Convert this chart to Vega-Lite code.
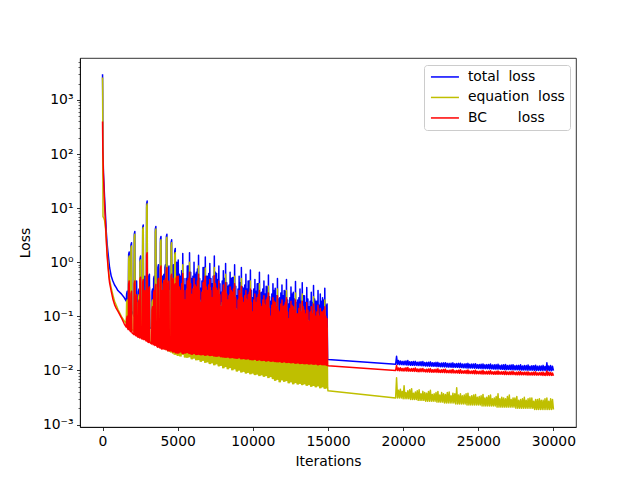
{
  "$schema": "https://vega.github.io/schema/vega-lite/v6.json",
  "width": 496,
  "height": 369,
  "autosize": {"type": "none"},
  "padding": {"left": 80, "top": 58, "right": 64, "bottom": 53},
  "background": "white",
  "datasets": {
    "total": [
      {"i":0,"v":3000},{"i":10,"v":1200},{"i":20,"v":150},{"i":60,"v":45},{"i":133,"v":16},{"i":200,"v":7},{"i":247,"v":3.7},{"i":300,"v":2.3},{"i":353,"v":1.6},{"i":467,"v":0.8},{"i":580,"v":0.55},{"i":687,"v":0.45},{"i":800,"v":0.38},{"i":913,"v":0.34},{"i":1020,"v":0.3},{"i":1250,"v":0.26},{"i":1450,"v":0.22},
      {"i":1575,"v":0.19},{"i":1602,"v":0.26},{"i":1638,"v":0.29},{"i":1665,"v":0.18},{"i":1710,"v":0.165},{"i":1737,"v":1.4},{"i":1773,"v":1.55},{"i":1800,"v":0.155},
      {"i":1865,"v":0.135},{"i":1892,"v":2.1},{"i":1928,"v":2.3},{"i":1955,"v":0.125},{"i":2085,"v":0.1},{"i":2112,"v":3.3},{"i":2148,"v":3.7},{"i":2175,"v":0.097},
      {"i":2205,"v":0.092},{"i":2232,"v":0.4},{"i":2268,"v":0.45},{"i":2295,"v":0.088},{"i":2365,"v":0.083},{"i":2392,"v":0.29},{"i":2428,"v":0.32},{"i":2455,"v":0.081},
      {"i":2465,"v":0.079},{"i":2492,"v":1.15},{"i":2528,"v":1.3},{"i":2555,"v":0.077},{"i":2645,"v":0.074},{"i":2672,"v":4.4},{"i":2708,"v":4.9},{"i":2735,"v":0.073},
      {"i":2755,"v":0.071},{"i":2782,"v":0.5},{"i":2818,"v":0.55},{"i":2845,"v":0.07},{"i":2905,"v":0.067},{"i":2932,"v":12},{"i":2968,"v":13.5},{"i":2995,"v":0.066},
      {"i":3055,"v":0.063},{"i":3082,"v":0.55},{"i":3118,"v":0.6},{"i":3145,"v":0.062},{"i":3265,"v":0.059},{"i":3292,"v":0.29},{"i":3328,"v":0.32},{"i":3355,"v":0.058},
      {"i":3375,"v":0.057},{"i":3402,"v":0.5},{"i":3438,"v":0.55},{"i":3465,"v":0.056},{"i":3485,"v":0.055},{"i":3512,"v":4.1},{"i":3548,"v":4.6},{"i":3575,"v":0.055},
      {"i":3655,"v":0.053},{"i":3682,"v":0.8},{"i":3718,"v":0.9},{"i":3745,"v":0.052},{"i":3825,"v":0.049},{"i":3852,"v":2.7},{"i":3888,"v":3.0},{"i":3915,"v":0.048},
      {"i":3925,"v":0.047},{"i":3952,"v":0.5},{"i":3988,"v":0.55},{"i":4015,"v":0.046},{"i":4025,"v":0.046},{"i":4052,"v":0.55},{"i":4088,"v":0.6},{"i":4115,"v":0.046},
      {"i":4125,"v":0.045},{"i":4152,"v":0.8},{"i":4188,"v":0.9},{"i":4215,"v":0.045},{"i":4220,"v":0.045},{"i":4247,"v":3.0},{"i":4283,"v":3.3},{"i":4310,"v":0.045},
      {"i":4355,"v":0.044},{"i":4382,"v":0.75},{"i":4418,"v":0.85},{"i":4445,"v":0.044},{"i":4535,"v":0.043},{"i":4562,"v":2.3},{"i":4598,"v":2.6},{"i":4625,"v":0.043},
      {"i":4655,"v":0.043},{"i":4682,"v":0.8},{"i":4718,"v":0.9},{"i":4745,"v":0.043},{"i":4775,"v":0.043},{"i":4802,"v":1.6},{"i":4838,"v":1.8},{"i":4865,"v":0.042},
      {"i":4875,"v":0.042},{"i":4902,"v":0.9},{"i":4938,"v":1.0},{"i":4965,"v":0.042},
      {"i":5000,"v":0.042},{"i":5037,"v":1.1},{"i":5075,"v":0.042},{"i":5112,"v":0.6},{"i":5150,"v":0.041},{"i":5187,"v":0.55},{"i":5225,"v":0.041},{"i":5262,"v":0.7},
      {"i":5300,"v":0.04},{"i":5337,"v":1.45},{"i":5375,"v":0.04},{"i":5412,"v":0.5},{"i":5450,"v":0.039},{"i":5487,"v":0.38},{"i":5525,"v":0.039},{"i":5562,"v":0.5},
      {"i":5600,"v":0.038},{"i":5637,"v":0.85},{"i":5675,"v":0.038},{"i":5712,"v":0.85},{"i":5750,"v":0.037},{"i":5787,"v":1.5},{"i":5825,"v":0.037},{"i":5862,"v":0.65},
      {"i":5900,"v":0.036},{"i":5937,"v":0.5},{"i":5975,"v":0.036},{"i":6012,"v":0.55},{"i":6050,"v":0.036},{"i":6087,"v":1.0},{"i":6125,"v":0.036},{"i":6162,"v":0.6},
      {"i":6200,"v":0.035},{"i":6237,"v":0.65},{"i":6275,"v":0.035},{"i":6312,"v":0.75},{"i":6350,"v":0.034},{"i":6387,"v":1.35},{"i":6425,"v":0.034},{"i":6462,"v":0.5},
      {"i":6500,"v":0.033},{"i":6537,"v":0.33},{"i":6575,"v":0.033},{"i":6612,"v":0.45},{"i":6650,"v":0.033},{"i":6687,"v":0.8},{"i":6725,"v":0.033},{"i":6762,"v":0.8},
      {"i":6800,"v":0.032},{"i":6837,"v":1.25},{"i":6875,"v":0.032},{"i":6912,"v":0.55},{"i":6950,"v":0.031},{"i":6987,"v":0.55},{"i":7025,"v":0.031},{"i":7062,"v":0.62},
      {"i":7100,"v":0.031},{"i":7137,"v":0.95},{"i":7175,"v":0.031},{"i":7212,"v":0.5},{"i":7250,"v":0.03},{"i":7287,"v":0.4},{"i":7325,"v":0.03},{"i":7362,"v":0.55},
      {"i":7400,"v":0.029},{"i":7437,"v":1.3},{"i":7475,"v":0.029},{"i":7512,"v":0.65},{"i":7550,"v":0.029},{"i":7587,"v":0.62},{"i":7625,"v":0.029},{"i":7662,"v":0.48},
      {"i":7700,"v":0.028},{"i":7737,"v":0.85},{"i":7775,"v":0.028},{"i":7812,"v":0.4},{"i":7850,"v":0.028},{"i":7887,"v":0.28},{"i":7925,"v":0.028},{"i":7962,"v":0.45},
      {"i":8000,"v":0.027},{"i":8037,"v":0.7},{"i":8075,"v":0.027},{"i":8112,"v":0.5},{"i":8150,"v":0.027},{"i":8187,"v":0.95},{"i":8225,"v":0.027},{"i":8262,"v":0.42},
      {"i":8300,"v":0.026},{"i":8337,"v":0.36},{"i":8375,"v":0.026},{"i":8412,"v":0.38},{"i":8450,"v":0.026},{"i":8487,"v":0.65},{"i":8525,"v":0.026},{"i":8562,"v":0.5},
      {"i":8600,"v":0.025},{"i":8637,"v":0.52},{"i":8675,"v":0.025},{"i":8712,"v":0.52},{"i":8750,"v":0.025},{"i":8787,"v":0.9},{"i":8825,"v":0.025},{"i":8862,"v":0.36},
      {"i":8900,"v":0.024},{"i":8937,"v":0.24},{"i":8975,"v":0.024},{"i":9012,"v":0.32},{"i":9050,"v":0.024},{"i":9087,"v":0.55},{"i":9125,"v":0.024},{"i":9162,"v":0.42},
      {"i":9200,"v":0.023},{"i":9237,"v":0.8},{"i":9275,"v":0.023},{"i":9312,"v":0.35},{"i":9350,"v":0.023},{"i":9387,"v":0.33},{"i":9425,"v":0.023},{"i":9462,"v":0.38},
      {"i":9500,"v":0.023},{"i":9537,"v":0.6},{"i":9575,"v":0.023},{"i":9612,"v":0.32},{"i":9650,"v":0.022},{"i":9687,"v":0.45},{"i":9725,"v":0.022},{"i":9762,"v":0.45},
      {"i":9800,"v":0.022},{"i":9837,"v":0.72},{"i":9875,"v":0.022},{"i":9912,"v":0.3},{"i":9950,"v":0.022},{"i":9987,"v":0.22},{"i":10025,"v":0.022},{"i":10062,"v":0.32},
      {"i":10100,"v":0.021},{"i":10137,"v":0.48},{"i":10175,"v":0.021},{"i":10212,"v":0.29},{"i":10250,"v":0.021},{"i":10287,"v":0.4},{"i":10325,"v":0.021},{"i":10362,"v":0.4},
      {"i":10400,"v":0.021},{"i":10437,"v":0.65},{"i":10475,"v":0.021},{"i":10512,"v":0.27},{"i":10550,"v":0.02},{"i":10587,"v":0.28},{"i":10625,"v":0.02},{"i":10662,"v":0.32},
      {"i":10700,"v":0.02},{"i":10737,"v":0.45},{"i":10775,"v":0.02},{"i":10812,"v":0.26},{"i":10850,"v":0.02},{"i":10887,"v":0.36},{"i":10925,"v":0.02},{"i":10962,"v":0.35},
      {"i":11000,"v":0.02},{"i":11037,"v":0.58},{"i":11075,"v":0.02},{"i":11112,"v":0.23},{"i":11150,"v":0.019},{"i":11187,"v":0.19},{"i":11225,"v":0.019},{"i":11262,"v":0.26},
      {"i":11300,"v":0.019},{"i":11337,"v":0.4},{"i":11375,"v":0.019},{"i":11412,"v":0.3},{"i":11450,"v":0.019},{"i":11487,"v":0.33},{"i":11525,"v":0.019},{"i":11562,"v":0.24},
      {"i":11600,"v":0.019},{"i":11637,"v":0.5},{"i":11675,"v":0.019},{"i":11712,"v":0.21},{"i":11750,"v":0.018},{"i":11787,"v":0.22},{"i":11825,"v":0.018},{"i":11862,"v":0.27},
      {"i":11900,"v":0.018},{"i":11937,"v":0.38},{"i":11975,"v":0.018},{"i":12012,"v":0.24},{"i":12050,"v":0.018},{"i":12087,"v":0.3},{"i":12125,"v":0.018},{"i":12162,"v":0.29},
      {"i":12200,"v":0.018},{"i":12237,"v":0.48},{"i":12275,"v":0.018},{"i":12312,"v":0.2},{"i":12350,"v":0.018},{"i":12387,"v":0.17},{"i":12425,"v":0.018},{"i":12462,"v":0.22},
      {"i":12500,"v":0.017},{"i":12537,"v":0.35},{"i":12575,"v":0.017},{"i":12612,"v":0.26},{"i":12650,"v":0.017},{"i":12687,"v":0.28},{"i":12725,"v":0.017},{"i":12762,"v":0.21},
      {"i":12800,"v":0.017},{"i":12837,"v":0.44},{"i":12875,"v":0.017},{"i":12912,"v":0.18},{"i":12950,"v":0.017},{"i":12987,"v":0.2},{"i":13025,"v":0.017},{"i":13062,"v":0.22},
      {"i":13100,"v":0.017},{"i":13137,"v":0.32},{"i":13175,"v":0.017},{"i":13212,"v":0.19},{"i":13250,"v":0.017},{"i":13287,"v":0.42},{"i":13325,"v":0.017},{"i":13362,"v":0.24},
      {"i":13400,"v":0.0168},{"i":13437,"v":0.24},{"i":13475,"v":0.0168},{"i":13512,"v":0.18},{"i":13550,"v":0.0167},{"i":13587,"v":0.34},{"i":13625,"v":0.0167},{"i":13662,"v":0.21},
      {"i":13700,"v":0.0166},{"i":13737,"v":0.15},{"i":13775,"v":0.0166},{"i":13812,"v":0.19},{"i":13850,"v":0.0165},{"i":13887,"v":0.28},{"i":13925,"v":0.0165},{"i":13962,"v":0.18},
      {"i":14000,"v":0.0165},{"i":14037,"v":0.37},{"i":14075,"v":0.0165},{"i":14112,"v":0.21},{"i":14150,"v":0.0164},{"i":14187,"v":0.19},{"i":14225,"v":0.0164},{"i":14262,"v":0.19},
      {"i":14300,"v":0.0163},{"i":14337,"v":0.3},{"i":14375,"v":0.0163},{"i":14412,"v":0.16},{"i":14450,"v":0.0163},{"i":14487,"v":0.26},{"i":14525,"v":0.0163},{"i":14562,"v":0.19},
      {"i":14600,"v":0.0162},{"i":14637,"v":0.22},{"i":14675,"v":0.0162},{"i":14712,"v":0.2},{"i":14750,"v":0.0162},{"i":14787,"v":0.33},{"i":14825,"v":0.0162},{"i":14862,"v":0.16},
      {"i":14900,"v":0.0161},{"i":14937,"v":0.17},{"i":14975,"v":0.0161},{"i":15000,"v":0.016},
      {"i":19500,"v":0.013},{"i":19562,"v":0.0183},{"i":19625,"v":0.013},{"i":19687,"v":0.0152},{"i":19750,"v":0.0128},{"i":19812,"v":0.015},{"i":19875,"v":0.0128},{"i":19937,"v":0.0147},
      {"i":20000,"v":0.0127},{"i":20062,"v":0.0148},{"i":20125,"v":0.0127},{"i":20187,"v":0.015},{"i":20250,"v":0.0126},{"i":20312,"v":0.0152},{"i":20375,"v":0.0126},{"i":20437,"v":0.0145},
      {"i":20500,"v":0.0125},{"i":20562,"v":0.0145},{"i":20625,"v":0.0125},{"i":20687,"v":0.0146},{"i":20750,"v":0.0124},{"i":20812,"v":0.0147},{"i":20875,"v":0.0124},{"i":20937,"v":0.0142},
      {"i":21000,"v":0.0123},{"i":21062,"v":0.0143},{"i":21125,"v":0.0123},{"i":21187,"v":0.0145},{"i":21250,"v":0.0122},{"i":21312,"v":0.0146},{"i":21375,"v":0.0122},{"i":21437,"v":0.014},
      {"i":21500,"v":0.0121},{"i":21562,"v":0.0141},{"i":21625,"v":0.0121},{"i":21687,"v":0.0142},{"i":21750,"v":0.012},{"i":21812,"v":0.0144},{"i":21875,"v":0.012},{"i":21937,"v":0.0139},
      {"i":22000,"v":0.0119},{"i":22062,"v":0.0139},{"i":22125,"v":0.0119},{"i":22187,"v":0.0141},{"i":22250,"v":0.0118},{"i":22312,"v":0.0141},{"i":22375,"v":0.0118},{"i":22437,"v":0.0136},
      {"i":22500,"v":0.0117},{"i":22562,"v":0.0137},{"i":22625,"v":0.0117},{"i":22687,"v":0.0138},{"i":22750,"v":0.0116},{"i":22812,"v":0.0139},{"i":22875,"v":0.0116},{"i":22937,"v":0.0135},
      {"i":23000,"v":0.0115},{"i":23062,"v":0.0135},{"i":23125,"v":0.0115},{"i":23187,"v":0.0136},{"i":23250,"v":0.0114},{"i":23312,"v":0.0138},{"i":23375,"v":0.0114},{"i":23437,"v":0.0133},
      {"i":23500,"v":0.0114},{"i":23562,"v":0.0134},{"i":23625,"v":0.0114},{"i":23687,"v":0.0135},{"i":23750,"v":0.0113},{"i":23812,"v":0.0136},{"i":23875,"v":0.0113},{"i":23937,"v":0.0131},
      {"i":24000,"v":0.0112},{"i":24062,"v":0.0132},{"i":24125,"v":0.0112},{"i":24187,"v":0.0133},{"i":24250,"v":0.0111},{"i":24312,"v":0.0135},{"i":24375,"v":0.0111},{"i":24437,"v":0.013},
      {"i":24500,"v":0.0111},{"i":24562,"v":0.0131},{"i":24625,"v":0.0111},{"i":24687,"v":0.0132},{"i":24750,"v":0.011},{"i":24812,"v":0.0133},{"i":24875,"v":0.011},{"i":24937,"v":0.0128},
      {"i":25000,"v":0.0109},{"i":25062,"v":0.0129},{"i":25125,"v":0.0109},{"i":25187,"v":0.013},{"i":25250,"v":0.0108},{"i":25312,"v":0.0132},{"i":25375,"v":0.0108},{"i":25437,"v":0.0127},
      {"i":25500,"v":0.0108},{"i":25562,"v":0.0128},{"i":25625,"v":0.0108},{"i":25687,"v":0.0129},{"i":25750,"v":0.0107},{"i":25812,"v":0.0131},{"i":25875,"v":0.0107},{"i":25937,"v":0.0126},
      {"i":26000,"v":0.0106},{"i":26062,"v":0.0127},{"i":26125,"v":0.0106},{"i":26187,"v":0.0128},{"i":26250,"v":0.0106},{"i":26312,"v":0.013},{"i":26375,"v":0.0106},{"i":26437,"v":0.0124},
      {"i":26500,"v":0.0105},{"i":26562,"v":0.0126},{"i":26625,"v":0.0105},{"i":26687,"v":0.0127},{"i":26750,"v":0.0104},{"i":26812,"v":0.0129},{"i":26875,"v":0.0104},{"i":26937,"v":0.0123},
      {"i":27000,"v":0.0104},{"i":27062,"v":0.0125},{"i":27125,"v":0.0104},{"i":27187,"v":0.0126},{"i":27250,"v":0.0103},{"i":27312,"v":0.0128},{"i":27375,"v":0.0103},{"i":27437,"v":0.0122},
      {"i":27500,"v":0.0103},{"i":27562,"v":0.0124},{"i":27625,"v":0.0103},{"i":27687,"v":0.0124},{"i":27750,"v":0.0102},{"i":27812,"v":0.0127},{"i":27875,"v":0.0102},{"i":27937,"v":0.0121},
      {"i":28000,"v":0.0102},{"i":28062,"v":0.0123},{"i":28125,"v":0.0102},{"i":28187,"v":0.0123},{"i":28250,"v":0.0101},{"i":28312,"v":0.0126},{"i":28375,"v":0.0101},{"i":28437,"v":0.012},
      {"i":28500,"v":0.0101},{"i":28562,"v":0.0122},{"i":28625,"v":0.0101},{"i":28687,"v":0.0122},{"i":28750,"v":0.01},{"i":28812,"v":0.0125},{"i":28875,"v":0.01},{"i":28937,"v":0.0119},
      {"i":29000,"v":0.01},{"i":29062,"v":0.0121},{"i":29125,"v":0.01},{"i":29187,"v":0.0121},{"i":29250,"v":0.01},{"i":29312,"v":0.0124},{"i":29375,"v":0.01},{"i":29437,"v":0.0118},
      {"i":29500,"v":0.0099},{"i":29562,"v":0.0138},{"i":29625,"v":0.0099},{"i":29687,"v":0.0121},{"i":29750,"v":0.0099},{"i":29812,"v":0.0123},{"i":29875,"v":0.0099},{"i":29937,"v":0.0119},
      {"i":30000,"v":0.0099}
    ],
    "equation": [
      {"i":0,"v":2600},{"i":10,"v":1500},{"i":20,"v":60},{"i":30,"v":7},{"i":90,"v":6.5},{"i":133,"v":6},{"i":200,"v":4.2},{"i":247,"v":2.8},{"i":300,"v":1.6},{"i":353,"v":1.0},{"i":420,"v":0.62},{"i":467,"v":0.48},{"i":580,"v":0.33},{"i":687,"v":0.25},{"i":800,"v":0.19},{"i":913,"v":0.16},{"i":1020,"v":0.135},{"i":1250,"v":0.1},{"i":1450,"v":0.082},
      {"i":1575,"v":0.074},{"i":1602,"v":0.18},{"i":1638,"v":0.2},{"i":1665,"v":0.072},{"i":1710,"v":0.068},{"i":1737,"v":1.15},{"i":1773,"v":1.3},{"i":1800,"v":0.066},
      {"i":1865,"v":0.06},{"i":1892,"v":1.8},{"i":1928,"v":2.0},{"i":1955,"v":0.058},{"i":2085,"v":0.053},{"i":2112,"v":2.9},{"i":2148,"v":3.3},{"i":2175,"v":0.052},
      {"i":2205,"v":0.05},{"i":2232,"v":0.16},{"i":2268,"v":0.18},{"i":2295,"v":0.049},{"i":2365,"v":0.047},{"i":2392,"v":0.22},{"i":2428,"v":0.25},{"i":2455,"v":0.046},
      {"i":2465,"v":0.045},{"i":2492,"v":1.0},{"i":2528,"v":1.1},{"i":2555,"v":0.045},{"i":2645,"v":0.042},{"i":2672,"v":4.0},{"i":2708,"v":4.4},{"i":2735,"v":0.042},
      {"i":2755,"v":0.041},{"i":2782,"v":0.2},{"i":2818,"v":0.22},{"i":2845,"v":0.04},{"i":2905,"v":0.038},{"i":2932,"v":10.5},{"i":2968,"v":12},{"i":2995,"v":0.037},
      {"i":3055,"v":0.036},{"i":3082,"v":0.22},{"i":3118,"v":0.25},{"i":3145,"v":0.035},{"i":3265,"v":0.033},{"i":3292,"v":0.18},{"i":3328,"v":0.2},{"i":3355,"v":0.033},
      {"i":3375,"v":0.032},{"i":3402,"v":0.18},{"i":3438,"v":0.2},{"i":3465,"v":0.032},{"i":3485,"v":0.031},{"i":3512,"v":3.6},{"i":3548,"v":4.1},{"i":3575,"v":0.031},
      {"i":3655,"v":0.029},{"i":3682,"v":0.3},{"i":3718,"v":0.35},{"i":3745,"v":0.029},{"i":3825,"v":0.028},{"i":3852,"v":2.3},{"i":3888,"v":2.6},{"i":3915,"v":0.027},
      {"i":3925,"v":0.027},{"i":3952,"v":0.18},{"i":3988,"v":0.2},{"i":4015,"v":0.026},{"i":4025,"v":0.026},{"i":4052,"v":0.4},{"i":4088,"v":0.45},{"i":4115,"v":0.026},
      {"i":4125,"v":0.025},{"i":4152,"v":0.3},{"i":4188,"v":0.35},{"i":4215,"v":0.025},{"i":4220,"v":0.025},{"i":4247,"v":2.6},{"i":4283,"v":2.9},{"i":4310,"v":0.024},
      {"i":4355,"v":0.023},{"i":4382,"v":0.27},{"i":4418,"v":0.3},{"i":4445,"v":0.023},{"i":4535,"v":0.022},{"i":4562,"v":2.0},{"i":4598,"v":2.3},{"i":4625,"v":0.022},
      {"i":4655,"v":0.021},{"i":4682,"v":0.3},{"i":4718,"v":0.35},{"i":4745,"v":0.021},{"i":4775,"v":0.02},{"i":4802,"v":1.35},{"i":4838,"v":1.5},{"i":4865,"v":0.02},
      {"i":4875,"v":0.02},{"i":4902,"v":0.36},{"i":4938,"v":0.4},{"i":4965,"v":0.019},
      {"i":5000,"v":0.019},{"i":5037,"v":0.4},{"i":5075,"v":0.019},{"i":5112,"v":0.23},{"i":5150,"v":0.0185},{"i":5187,"v":0.22},{"i":5225,"v":0.0185},{"i":5262,"v":0.26},
      {"i":5300,"v":0.02},{"i":5337,"v":0.9},{"i":5375,"v":0.02},{"i":5412,"v":0.2},{"i":5450,"v":0.0178},{"i":5487,"v":0.14},{"i":5525,"v":0.0178},{"i":5562,"v":0.2},
      {"i":5600,"v":0.0175},{"i":5637,"v":0.32},{"i":5675,"v":0.0175},{"i":5712,"v":0.33},{"i":5750,"v":0.018},{"i":5787,"v":1.0},{"i":5825,"v":0.018},{"i":5862,"v":0.26},
      {"i":5900,"v":0.0165},{"i":5937,"v":0.18},{"i":5975,"v":0.0165},{"i":6012,"v":0.21},{"i":6050,"v":0.017},{"i":6087,"v":0.35},{"i":6125,"v":0.017},{"i":6162,"v":0.25},
      {"i":6200,"v":0.0158},{"i":6237,"v":0.25},{"i":6275,"v":0.0158},{"i":6312,"v":0.29},{"i":6350,"v":0.016},{"i":6387,"v":0.85},{"i":6425,"v":0.016},{"i":6462,"v":0.2},
      {"i":6500,"v":0.0148},{"i":6537,"v":0.13},{"i":6575,"v":0.0148},{"i":6612,"v":0.18},{"i":6650,"v":0.0155},{"i":6687,"v":0.3},{"i":6725,"v":0.0155},{"i":6762,"v":0.3},
      {"i":6800,"v":0.0142},{"i":6837,"v":0.78},{"i":6875,"v":0.0142},{"i":6912,"v":0.23},{"i":6950,"v":0.0145},{"i":6987,"v":0.2},{"i":7025,"v":0.0145},{"i":7062,"v":0.25},
      {"i":7100,"v":0.0135},{"i":7137,"v":0.34},{"i":7175,"v":0.0135},{"i":7212,"v":0.2},{"i":7250,"v":0.0138},{"i":7287,"v":0.15},{"i":7325,"v":0.0138},{"i":7362,"v":0.22},
      {"i":7400,"v":0.0128},{"i":7437,"v":0.8},{"i":7475,"v":0.0128},{"i":7512,"v":0.26},{"i":7550,"v":0.0133},{"i":7587,"v":0.23},{"i":7625,"v":0.0133},{"i":7662,"v":0.2},
      {"i":7700,"v":0.0122},{"i":7737,"v":0.32},{"i":7775,"v":0.0122},{"i":7812,"v":0.16},{"i":7850,"v":0.0125},{"i":7887,"v":0.1},{"i":7925,"v":0.0125},{"i":7962,"v":0.18},
      {"i":8000,"v":0.0112},{"i":8037,"v":0.27},{"i":8075,"v":0.0112},{"i":8112,"v":0.2},{"i":8150,"v":0.0118},{"i":8187,"v":0.6},{"i":8225,"v":0.0118},{"i":8262,"v":0.17},
      {"i":8300,"v":0.0108},{"i":8337,"v":0.14},{"i":8375,"v":0.0108},{"i":8412,"v":0.16},{"i":8450,"v":0.0113},{"i":8487,"v":0.25},{"i":8525,"v":0.0113},{"i":8562,"v":0.2},
      {"i":8600,"v":0.0103},{"i":8637,"v":0.2},{"i":8675,"v":0.0103},{"i":8712,"v":0.21},{"i":8750,"v":0.0107},{"i":8787,"v":0.55},{"i":8825,"v":0.0107},{"i":8862,"v":0.14},
      {"i":8900,"v":0.0098},{"i":8937,"v":0.09},{"i":8975,"v":0.0098},{"i":9012,"v":0.13},{"i":9050,"v":0.0102},{"i":9087,"v":0.21},{"i":9125,"v":0.0102},{"i":9162,"v":0.17},
      {"i":9200,"v":0.0094},{"i":9237,"v":0.5},{"i":9275,"v":0.0094},{"i":9312,"v":0.14},{"i":9350,"v":0.0097},{"i":9387,"v":0.12},{"i":9425,"v":0.0097},{"i":9462,"v":0.16},
      {"i":9500,"v":0.009},{"i":9537,"v":0.21},{"i":9575,"v":0.009},{"i":9612,"v":0.13},{"i":9650,"v":0.0093},{"i":9687,"v":0.17},{"i":9725,"v":0.0093},{"i":9762,"v":0.18},
      {"i":9800,"v":0.0087},{"i":9837,"v":0.45},{"i":9875,"v":0.0087},{"i":9912,"v":0.12},{"i":9950,"v":0.009},{"i":9987,"v":0.08},{"i":10025,"v":0.009},{"i":10062,"v":0.13},
      {"i":10100,"v":0.0084},{"i":10137,"v":0.18},{"i":10175,"v":0.0084},{"i":10212,"v":0.12},{"i":10250,"v":0.0086},{"i":10287,"v":0.15},{"i":10325,"v":0.0086},{"i":10362,"v":0.16},
      {"i":10400,"v":0.0081},{"i":10437,"v":0.4},{"i":10475,"v":0.0081},{"i":10512,"v":0.11},{"i":10550,"v":0.0083},{"i":10587,"v":0.1},{"i":10625,"v":0.0083},{"i":10662,"v":0.13},
      {"i":10700,"v":0.0078},{"i":10737,"v":0.17},{"i":10775,"v":0.0078},{"i":10812,"v":0.1},{"i":10850,"v":0.0081},{"i":10887,"v":0.14},{"i":10925,"v":0.0081},{"i":10962,"v":0.14},
      {"i":11000,"v":0.0074},{"i":11037,"v":0.36},{"i":11075,"v":0.0074},{"i":11112,"v":0.09},{"i":11150,"v":0.0077},{"i":11187,"v":0.07},{"i":11225,"v":0.0077},{"i":11262,"v":0.1},
      {"i":11300,"v":0.0071},{"i":11337,"v":0.15},{"i":11375,"v":0.0071},{"i":11412,"v":0.12},{"i":11450,"v":0.0066},{"i":11487,"v":0.12},{"i":11525,"v":0.0066},{"i":11562,"v":0.1},
      {"i":11600,"v":0.0069},{"i":11637,"v":0.32},{"i":11675,"v":0.0069},{"i":11712,"v":0.085},{"i":11750,"v":0.0062},{"i":11787,"v":0.08},{"i":11825,"v":0.0062},{"i":11862,"v":0.11},
      {"i":11900,"v":0.0067},{"i":11937,"v":0.14},{"i":11975,"v":0.0067},{"i":12012,"v":0.1},{"i":12050,"v":0.0063},{"i":12087,"v":0.11},{"i":12125,"v":0.0063},{"i":12162,"v":0.12},
      {"i":12200,"v":0.0065},{"i":12237,"v":0.3},{"i":12275,"v":0.0065},{"i":12312,"v":0.08},{"i":12350,"v":0.0059},{"i":12387,"v":0.06},{"i":12425,"v":0.0059},{"i":12462,"v":0.09},
      {"i":12500,"v":0.0062},{"i":12537,"v":0.13},{"i":12575,"v":0.0062},{"i":12612,"v":0.1},{"i":12650,"v":0.0057},{"i":12687,"v":0.1},{"i":12725,"v":0.0057},{"i":12762,"v":0.085},
      {"i":12800,"v":0.006},{"i":12837,"v":0.27},{"i":12875,"v":0.006},{"i":12912,"v":0.07},{"i":12950,"v":0.0056},{"i":12987,"v":0.075},{"i":13025,"v":0.0056},{"i":13062,"v":0.09},
      {"i":13100,"v":0.0058},{"i":13137,"v":0.12},{"i":13175,"v":0.0058},{"i":13212,"v":0.08},{"i":13250,"v":0.0055},{"i":13287,"v":0.26},{"i":13325,"v":0.0055},{"i":13362,"v":0.1},
      {"i":13400,"v":0.0057},{"i":13437,"v":0.09},{"i":13475,"v":0.0057},{"i":13512,"v":0.07},{"i":13550,"v":0.0053},{"i":13587,"v":0.12},{"i":13625,"v":0.0053},{"i":13662,"v":0.085},
      {"i":13700,"v":0.0055},{"i":13737,"v":0.055},{"i":13775,"v":0.0055},{"i":13812,"v":0.08},{"i":13850,"v":0.0051},{"i":13887,"v":0.1},{"i":13925,"v":0.0051},{"i":13962,"v":0.07},
      {"i":14000,"v":0.0053},{"i":14037,"v":0.23},{"i":14075,"v":0.0053},{"i":14112,"v":0.085},{"i":14150,"v":0.005},{"i":14187,"v":0.07},{"i":14225,"v":0.005},{"i":14262,"v":0.08},
      {"i":14300,"v":0.0052},{"i":14337,"v":0.11},{"i":14375,"v":0.0052},{"i":14412,"v":0.065},{"i":14450,"v":0.0048},{"i":14487,"v":0.1},{"i":14525,"v":0.0048},{"i":14562,"v":0.08},
      {"i":14600,"v":0.005},{"i":14637,"v":0.08},{"i":14675,"v":0.005},{"i":14712,"v":0.085},{"i":14750,"v":0.0047},{"i":14787,"v":0.2},{"i":14825,"v":0.0047},{"i":14862,"v":0.065},
      {"i":14900,"v":0.0048},{"i":14937,"v":0.06},{"i":14975,"v":0.0048},{"i":15000,"v":0.0042},
      {"i":19500,"v":0.0031},{"i":19562,"v":0.0073},{"i":19625,"v":0.0031},{"i":19687,"v":0.0043},{"i":19750,"v":0.0031},{"i":19812,"v":0.0045},{"i":19875,"v":0.0031},{"i":19937,"v":0.0041},
      {"i":20000,"v":0.003},{"i":20062,"v":0.0052},{"i":20125,"v":0.003},{"i":20187,"v":0.0039},{"i":20250,"v":0.003},{"i":20312,"v":0.0042},{"i":20375,"v":0.003},{"i":20437,"v":0.0044},
      {"i":20500,"v":0.0029},{"i":20562,"v":0.0046},{"i":20625,"v":0.0029},{"i":20687,"v":0.0038},{"i":20750,"v":0.0029},{"i":20812,"v":0.004},{"i":20875,"v":0.0029},{"i":20937,"v":0.0042},
      {"i":21000,"v":0.0028},{"i":21062,"v":0.0044},{"i":21125,"v":0.0028},{"i":21187,"v":0.0037},{"i":21250,"v":0.0028},{"i":21312,"v":0.0041},{"i":21375,"v":0.0028},{"i":21437,"v":0.0039},
      {"i":21500,"v":0.0027},{"i":21562,"v":0.0038},{"i":21625,"v":0.0027},{"i":21687,"v":0.0041},{"i":21750,"v":0.0027},{"i":21812,"v":0.0043},{"i":21875,"v":0.0027},{"i":21937,"v":0.0036},
      {"i":22000,"v":0.0027},{"i":22062,"v":0.0037},{"i":22125,"v":0.0027},{"i":22187,"v":0.0039},{"i":22250,"v":0.0026},{"i":22312,"v":0.0041},{"i":22375,"v":0.0026},{"i":22437,"v":0.0035},
      {"i":22500,"v":0.0026},{"i":22562,"v":0.0039},{"i":22625,"v":0.0026},{"i":22687,"v":0.0037},{"i":22750,"v":0.0025},{"i":22812,"v":0.0036},{"i":22875,"v":0.0025},{"i":22937,"v":0.0039},
      {"i":23000,"v":0.0025},{"i":23062,"v":0.004},{"i":23125,"v":0.0025},{"i":23187,"v":0.0034},{"i":23250,"v":0.0025},{"i":23312,"v":0.0038},{"i":23375,"v":0.0025},{"i":23437,"v":0.0037},
      {"i":23500,"v":0.0024},{"i":23562,"v":0.0048},{"i":23625,"v":0.0024},{"i":23687,"v":0.0035},{"i":23750,"v":0.0024},{"i":23812,"v":0.0037},{"i":23875,"v":0.0024},{"i":23937,"v":0.0034},
      {"i":24000,"v":0.0024},{"i":24062,"v":0.0035},{"i":24125,"v":0.0024},{"i":24187,"v":0.0037},{"i":24250,"v":0.0023},{"i":24312,"v":0.0038},{"i":24375,"v":0.0023},{"i":24437,"v":0.0033},
      {"i":24500,"v":0.0023},{"i":24562,"v":0.0034},{"i":24625,"v":0.0023},{"i":24687,"v":0.0035},{"i":24750,"v":0.0023},{"i":24812,"v":0.0036},{"i":24875,"v":0.0023},{"i":24937,"v":0.0032},
      {"i":25000,"v":0.0023},{"i":25062,"v":0.0033},{"i":25125,"v":0.0023},{"i":25187,"v":0.0034},{"i":25250,"v":0.0022},{"i":25312,"v":0.0036},{"i":25375,"v":0.0022},{"i":25437,"v":0.0031},
      {"i":25500,"v":0.0022},{"i":25562,"v":0.0032},{"i":25625,"v":0.0022},{"i":25687,"v":0.0034},{"i":25750,"v":0.0022},{"i":25812,"v":0.0035},{"i":25875,"v":0.0022},{"i":25937,"v":0.003},
      {"i":26000,"v":0.0022},{"i":26062,"v":0.0031},{"i":26125,"v":0.0022},{"i":26187,"v":0.0033},{"i":26250,"v":0.0021},{"i":26312,"v":0.0037},{"i":26375,"v":0.0021},{"i":26437,"v":0.003},
      {"i":26500,"v":0.0021},{"i":26562,"v":0.0032},{"i":26625,"v":0.0021},{"i":26687,"v":0.0031},{"i":26750,"v":0.0021},{"i":26812,"v":0.003},{"i":26875,"v":0.0021},{"i":26937,"v":0.0033},
      {"i":27000,"v":0.0021},{"i":27062,"v":0.0035},{"i":27125,"v":0.0021},{"i":27187,"v":0.0029},{"i":27250,"v":0.0021},{"i":27312,"v":0.0031},{"i":27375,"v":0.0021},{"i":27437,"v":0.0031},
      {"i":27500,"v":0.002},{"i":27562,"v":0.0033},{"i":27625,"v":0.002},{"i":27687,"v":0.0028},{"i":27750,"v":0.002},{"i":27812,"v":0.0029},{"i":27875,"v":0.002},{"i":27937,"v":0.003},
      {"i":28000,"v":0.002},{"i":28062,"v":0.0032},{"i":28125,"v":0.002},{"i":28187,"v":0.0028},{"i":28250,"v":0.002},{"i":28312,"v":0.003},{"i":28375,"v":0.002},{"i":28437,"v":0.0031},
      {"i":28500,"v":0.002},{"i":28562,"v":0.0031},{"i":28625,"v":0.002},{"i":28687,"v":0.0027},{"i":28750,"v":0.0019},{"i":28812,"v":0.0029},{"i":28875,"v":0.0019},{"i":28937,"v":0.0029},
      {"i":29000,"v":0.0019},{"i":29062,"v":0.003},{"i":29125,"v":0.0019},{"i":29187,"v":0.0028},{"i":29250,"v":0.0019},{"i":29312,"v":0.0028},{"i":29375,"v":0.0019},{"i":29437,"v":0.003},
      {"i":29500,"v":0.0019},{"i":29562,"v":0.0031},{"i":29625,"v":0.0019},{"i":29687,"v":0.0027},{"i":29750,"v":0.0019},{"i":29812,"v":0.003},{"i":29875,"v":0.0019},{"i":29937,"v":0.0029},
      {"i":30000,"v":0.0019}
    ],
    "bc": [
      {"i":0,"v":400},{"i":20,"v":110},{"i":60,"v":40},{"i":133,"v":12},{"i":200,"v":5},{"i":247,"v":2.6},{"i":300,"v":1.4},{"i":353,"v":0.9},{"i":420,"v":0.55},{"i":467,"v":0.42},{"i":580,"v":0.29},{"i":687,"v":0.21},{"i":800,"v":0.165},{"i":913,"v":0.14},{"i":1020,"v":0.125},{"i":1250,"v":0.095},{"i":1450,"v":0.072},
      {"i":1575,"v":0.063},{"i":1602,"v":0.09},{"i":1638,"v":0.1},{"i":1665,"v":0.06},{"i":1710,"v":0.057},{"i":1737,"v":0.4},{"i":1773,"v":0.45},{"i":1800,"v":0.056},
      {"i":1865,"v":0.052},{"i":1892,"v":0.26},{"i":1928,"v":0.29},{"i":1955,"v":0.05},{"i":2085,"v":0.046},{"i":2112,"v":0.4},{"i":2148,"v":0.45},{"i":2175,"v":0.045},
      {"i":2205,"v":0.044},{"i":2232,"v":0.22},{"i":2268,"v":0.25},{"i":2295,"v":0.043},{"i":2365,"v":0.041},{"i":2392,"v":0.18},{"i":2428,"v":0.2},{"i":2455,"v":0.041},
      {"i":2465,"v":0.04},{"i":2492,"v":0.48},{"i":2528,"v":0.53},{"i":2555,"v":0.04},{"i":2645,"v":0.038},{"i":2672,"v":0.43},{"i":2708,"v":0.48},{"i":2735,"v":0.038},
      {"i":2755,"v":0.037},{"i":2782,"v":0.27},{"i":2818,"v":0.3},{"i":2845,"v":0.037},{"i":2905,"v":0.035},{"i":2932,"v":1.35},{"i":2968,"v":1.5},{"i":2995,"v":0.034},
      {"i":3055,"v":0.033},{"i":3082,"v":0.32},{"i":3118,"v":0.35},{"i":3145,"v":0.033},{"i":3265,"v":0.031},{"i":3292,"v":0.13},{"i":3328,"v":0.15},{"i":3355,"v":0.031},
      {"i":3375,"v":0.03},{"i":3402,"v":0.27},{"i":3438,"v":0.3},{"i":3465,"v":0.03},{"i":3485,"v":0.029},{"i":3512,"v":0.35},{"i":3548,"v":0.39},{"i":3575,"v":0.029},
      {"i":3655,"v":0.027},{"i":3682,"v":0.45},{"i":3718,"v":0.5},{"i":3745,"v":0.027},{"i":3825,"v":0.026},{"i":3852,"v":0.75},{"i":3888,"v":0.85},{"i":3915,"v":0.026},
      {"i":3925,"v":0.025},{"i":3952,"v":0.27},{"i":3988,"v":0.3},{"i":4015,"v":0.025},{"i":4025,"v":0.025},{"i":4052,"v":0.4},{"i":4088,"v":0.45},{"i":4115,"v":0.025},
      {"i":4125,"v":0.025},{"i":4152,"v":0.45},{"i":4188,"v":0.5},{"i":4215,"v":0.024},{"i":4220,"v":0.024},{"i":4247,"v":0.7},{"i":4283,"v":0.8},{"i":4310,"v":0.024},
      {"i":4355,"v":0.023},{"i":4382,"v":0.4},{"i":4418,"v":0.45},{"i":4445,"v":0.023},{"i":4535,"v":0.023},{"i":4562,"v":0.55},{"i":4598,"v":0.6},{"i":4625,"v":0.023},
      {"i":4655,"v":0.022},{"i":4682,"v":0.45},{"i":4718,"v":0.5},{"i":4745,"v":0.022},{"i":4775,"v":0.022},{"i":4802,"v":0.36},{"i":4838,"v":0.4},{"i":4865,"v":0.022},
      {"i":4875,"v":0.021},{"i":4902,"v":0.5},{"i":4938,"v":0.55},{"i":4965,"v":0.021},
      {"i":5000,"v":0.021},{"i":5037,"v":0.55},{"i":5075,"v":0.021},{"i":5112,"v":0.35},{"i":5150,"v":0.022},{"i":5187,"v":0.3},{"i":5225,"v":0.022},{"i":5262,"v":0.4},
      {"i":5300,"v":0.0205},{"i":5337,"v":0.62},{"i":5375,"v":0.0205},{"i":5412,"v":0.3},{"i":5450,"v":0.021},{"i":5487,"v":0.2},{"i":5525,"v":0.021},{"i":5562,"v":0.3},
      {"i":5600,"v":0.0215},{"i":5637,"v":0.45},{"i":5675,"v":0.0215},{"i":5712,"v":0.5},{"i":5750,"v":0.0205},{"i":5787,"v":0.65},{"i":5825,"v":0.0205},{"i":5862,"v":0.4},
      {"i":5900,"v":0.02},{"i":5937,"v":0.25},{"i":5975,"v":0.02},{"i":6012,"v":0.32},{"i":6050,"v":0.0205},{"i":6087,"v":0.5},{"i":6125,"v":0.0205},{"i":6162,"v":0.38},
      {"i":6200,"v":0.0198},{"i":6237,"v":0.35},{"i":6275,"v":0.0198},{"i":6312,"v":0.45},{"i":6350,"v":0.02},{"i":6387,"v":0.6},{"i":6425,"v":0.02},{"i":6462,"v":0.3},
      {"i":6500,"v":0.0195},{"i":6537,"v":0.18},{"i":6575,"v":0.0195},{"i":6612,"v":0.28},{"i":6650,"v":0.0197},{"i":6687,"v":0.42},{"i":6725,"v":0.0197},{"i":6762,"v":0.46},
      {"i":6800,"v":0.019},{"i":6837,"v":0.55},{"i":6875,"v":0.019},{"i":6912,"v":0.35},{"i":6950,"v":0.0195},{"i":6987,"v":0.3},{"i":7025,"v":0.0195},{"i":7062,"v":0.38},
      {"i":7100,"v":0.0188},{"i":7137,"v":0.48},{"i":7175,"v":0.0188},{"i":7212,"v":0.3},{"i":7250,"v":0.019},{"i":7287,"v":0.22},{"i":7325,"v":0.019},{"i":7362,"v":0.34},
      {"i":7400,"v":0.0185},{"i":7437,"v":0.56},{"i":7475,"v":0.0185},{"i":7512,"v":0.4},{"i":7550,"v":0.0183},{"i":7587,"v":0.33},{"i":7625,"v":0.0183},{"i":7662,"v":0.3},
      {"i":7700,"v":0.0187},{"i":7737,"v":0.45},{"i":7775,"v":0.0187},{"i":7812,"v":0.25},{"i":7850,"v":0.018},{"i":7887,"v":0.15},{"i":7925,"v":0.018},{"i":7962,"v":0.28},
      {"i":8000,"v":0.0178},{"i":8037,"v":0.38},{"i":8075,"v":0.0178},{"i":8112,"v":0.3},{"i":8150,"v":0.0175},{"i":8187,"v":0.42},{"i":8225,"v":0.0175},{"i":8262,"v":0.26},
      {"i":8300,"v":0.0178},{"i":8337,"v":0.2},{"i":8375,"v":0.0178},{"i":8412,"v":0.24},{"i":8450,"v":0.0172},{"i":8487,"v":0.35},{"i":8525,"v":0.0172},{"i":8562,"v":0.3},
      {"i":8600,"v":0.0174},{"i":8637,"v":0.28},{"i":8675,"v":0.0174},{"i":8712,"v":0.32},{"i":8750,"v":0.017},{"i":8787,"v":0.4},{"i":8825,"v":0.017},{"i":8862,"v":0.22},
      {"i":8900,"v":0.0168},{"i":8937,"v":0.13},{"i":8975,"v":0.0168},{"i":9012,"v":0.2},{"i":9050,"v":0.0171},{"i":9087,"v":0.3},{"i":9125,"v":0.0171},{"i":9162,"v":0.26},
      {"i":9200,"v":0.0165},{"i":9237,"v":0.36},{"i":9275,"v":0.0165},{"i":9312,"v":0.22},{"i":9350,"v":0.0167},{"i":9387,"v":0.18},{"i":9425,"v":0.0167},{"i":9462,"v":0.24},
      {"i":9500,"v":0.0162},{"i":9537,"v":0.3},{"i":9575,"v":0.0162},{"i":9612,"v":0.2},{"i":9650,"v":0.0164},{"i":9687,"v":0.25},{"i":9725,"v":0.0164},{"i":9762,"v":0.28},
      {"i":9800,"v":0.016},{"i":9837,"v":0.32},{"i":9875,"v":0.016},{"i":9912,"v":0.18},{"i":9950,"v":0.0158},{"i":9987,"v":0.12},{"i":10025,"v":0.0158},{"i":10062,"v":0.2},
      {"i":10100,"v":0.0161},{"i":10137,"v":0.26},{"i":10175,"v":0.0161},{"i":10212,"v":0.18},{"i":10250,"v":0.0155},{"i":10287,"v":0.22},{"i":10325,"v":0.0155},{"i":10362,"v":0.25},
      {"i":10400,"v":0.0157},{"i":10437,"v":0.3},{"i":10475,"v":0.0157},{"i":10512,"v":0.17},{"i":10550,"v":0.0153},{"i":10587,"v":0.15},{"i":10625,"v":0.0153},{"i":10662,"v":0.2},
      {"i":10700,"v":0.0155},{"i":10737,"v":0.24},{"i":10775,"v":0.0155},{"i":10812,"v":0.16},{"i":10850,"v":0.015},{"i":10887,"v":0.2},{"i":10925,"v":0.015},{"i":10962,"v":0.22},
      {"i":11000,"v":0.0152},{"i":11037,"v":0.27},{"i":11075,"v":0.0152},{"i":11112,"v":0.14},{"i":11150,"v":0.0148},{"i":11187,"v":0.1},{"i":11225,"v":0.0148},{"i":11262,"v":0.16},
      {"i":11300,"v":0.015},{"i":11337,"v":0.22},{"i":11375,"v":0.015},{"i":11412,"v":0.19},{"i":11450,"v":0.0146},{"i":11487,"v":0.18},{"i":11525,"v":0.0146},{"i":11562,"v":0.15},
      {"i":11600,"v":0.0144},{"i":11637,"v":0.24},{"i":11675,"v":0.0144},{"i":11712,"v":0.13},{"i":11750,"v":0.0147},{"i":11787,"v":0.12},{"i":11825,"v":0.0147},{"i":11862,"v":0.17},
      {"i":11900,"v":0.0142},{"i":11937,"v":0.2},{"i":11975,"v":0.0142},{"i":12012,"v":0.15},{"i":12050,"v":0.0144},{"i":12087,"v":0.16},{"i":12125,"v":0.0144},{"i":12162,"v":0.18},
      {"i":12200,"v":0.014},{"i":12237,"v":0.22},{"i":12275,"v":0.014},{"i":12312,"v":0.12},{"i":12350,"v":0.0142},{"i":12387,"v":0.09},{"i":12425,"v":0.0142},{"i":12462,"v":0.14},
      {"i":12500,"v":0.0138},{"i":12537,"v":0.19},{"i":12575,"v":0.0138},{"i":12612,"v":0.16},{"i":12650,"v":0.014},{"i":12687,"v":0.15},{"i":12725,"v":0.014},{"i":12762,"v":0.13},
      {"i":12800,"v":0.0136},{"i":12837,"v":0.2},{"i":12875,"v":0.0136},{"i":12912,"v":0.11},{"i":12950,"v":0.0138},{"i":12987,"v":0.11},{"i":13025,"v":0.0138},{"i":13062,"v":0.14},
      {"i":13100,"v":0.0134},{"i":13137,"v":0.17},{"i":13175,"v":0.0134},{"i":13212,"v":0.12},{"i":13250,"v":0.0136},{"i":13287,"v":0.19},{"i":13325,"v":0.0136},{"i":13362,"v":0.15},
      {"i":13400,"v":0.0133},{"i":13437,"v":0.13},{"i":13475,"v":0.0133},{"i":13512,"v":0.11},{"i":13550,"v":0.0135},{"i":13587,"v":0.18},{"i":13625,"v":0.0135},{"i":13662,"v":0.13},
      {"i":13700,"v":0.0131},{"i":13737,"v":0.08},{"i":13775,"v":0.0131},{"i":13812,"v":0.12},{"i":13850,"v":0.0133},{"i":13887,"v":0.15},{"i":13925,"v":0.0133},{"i":13962,"v":0.11},
      {"i":14000,"v":0.013},{"i":14037,"v":0.17},{"i":14075,"v":0.013},{"i":14112,"v":0.13},{"i":14150,"v":0.0131},{"i":14187,"v":0.1},{"i":14225,"v":0.0131},{"i":14262,"v":0.12},
      {"i":14300,"v":0.0128},{"i":14337,"v":0.16},{"i":14375,"v":0.0128},{"i":14412,"v":0.1},{"i":14450,"v":0.013},{"i":14487,"v":0.14},{"i":14525,"v":0.013},{"i":14562,"v":0.12},
      {"i":14600,"v":0.0127},{"i":14637,"v":0.12},{"i":14675,"v":0.0127},{"i":14712,"v":0.13},{"i":14750,"v":0.0128},{"i":14787,"v":0.15},{"i":14825,"v":0.0128},{"i":14862,"v":0.1},
      {"i":14900,"v":0.0125},{"i":14937,"v":0.09},{"i":14975,"v":0.0125},{"i":15000,"v":0.0122},
      {"i":19500,"v":0.01},{"i":19562,"v":0.0124},{"i":19625,"v":0.01},{"i":19687,"v":0.0111},{"i":19750,"v":0.0099},{"i":19812,"v":0.0112},{"i":19875,"v":0.0099},{"i":19937,"v":0.0109},
      {"i":20000,"v":0.0098},{"i":20062,"v":0.011},{"i":20125,"v":0.0098},{"i":20187,"v":0.0112},{"i":20250,"v":0.0097},{"i":20312,"v":0.0113},{"i":20375,"v":0.0097},{"i":20437,"v":0.0107},
      {"i":20500,"v":0.0097},{"i":20562,"v":0.0108},{"i":20625,"v":0.0097},{"i":20687,"v":0.0109},{"i":20750,"v":0.0096},{"i":20812,"v":0.0111},{"i":20875,"v":0.0096},{"i":20937,"v":0.0106},
      {"i":21000,"v":0.0095},{"i":21062,"v":0.0106},{"i":21125,"v":0.0095},{"i":21187,"v":0.0108},{"i":21250,"v":0.0095},{"i":21312,"v":0.0109},{"i":21375,"v":0.0095},{"i":21437,"v":0.0104},
      {"i":21500,"v":0.0094},{"i":21562,"v":0.0105},{"i":21625,"v":0.0094},{"i":21687,"v":0.0106},{"i":21750,"v":0.0093},{"i":21812,"v":0.0108},{"i":21875,"v":0.0093},{"i":21937,"v":0.0103},
      {"i":22000,"v":0.0093},{"i":22062,"v":0.0104},{"i":22125,"v":0.0093},{"i":22187,"v":0.0105},{"i":22250,"v":0.0092},{"i":22312,"v":0.0107},{"i":22375,"v":0.0092},{"i":22437,"v":0.0102},
      {"i":22500,"v":0.0092},{"i":22562,"v":0.0103},{"i":22625,"v":0.0092},{"i":22687,"v":0.0104},{"i":22750,"v":0.0091},{"i":22812,"v":0.0105},{"i":22875,"v":0.0091},{"i":22937,"v":0.01},
      {"i":23000,"v":0.0091},{"i":23062,"v":0.0101},{"i":23125,"v":0.0091},{"i":23187,"v":0.0102},{"i":23250,"v":0.009},{"i":23312,"v":0.0104},{"i":23375,"v":0.009},{"i":23437,"v":0.0099},
      {"i":23500,"v":0.009},{"i":23562,"v":0.01},{"i":23625,"v":0.009},{"i":23687,"v":0.0101},{"i":23750,"v":0.0089},{"i":23812,"v":0.0103},{"i":23875,"v":0.0089},{"i":23937,"v":0.0098},
      {"i":24000,"v":0.0089},{"i":24062,"v":0.0099},{"i":24125,"v":0.0089},{"i":24187,"v":0.01},{"i":24250,"v":0.0088},{"i":24312,"v":0.0102},{"i":24375,"v":0.0088},{"i":24437,"v":0.0097},
      {"i":24500,"v":0.0088},{"i":24562,"v":0.0098},{"i":24625,"v":0.0088},{"i":24687,"v":0.0099},{"i":24750,"v":0.0087},{"i":24812,"v":0.0101},{"i":24875,"v":0.0087},{"i":24937,"v":0.0096},
      {"i":25000,"v":0.0087},{"i":25062,"v":0.0097},{"i":25125,"v":0.0087},{"i":25187,"v":0.0098},{"i":25250,"v":0.0086},{"i":25312,"v":0.01},{"i":25375,"v":0.0086},{"i":25437,"v":0.0095},
      {"i":25500,"v":0.0086},{"i":25562,"v":0.0096},{"i":25625,"v":0.0086},{"i":25687,"v":0.0097},{"i":25750,"v":0.0086},{"i":25812,"v":0.0099},{"i":25875,"v":0.0086},{"i":25937,"v":0.0094},
      {"i":26000,"v":0.0085},{"i":26062,"v":0.0095},{"i":26125,"v":0.0085},{"i":26187,"v":0.0096},{"i":26250,"v":0.0085},{"i":26312,"v":0.0098},{"i":26375,"v":0.0085},{"i":26437,"v":0.0094},
      {"i":26500,"v":0.0085},{"i":26562,"v":0.0095},{"i":26625,"v":0.0085},{"i":26687,"v":0.0095},{"i":26750,"v":0.0084},{"i":26812,"v":0.0097},{"i":26875,"v":0.0084},{"i":26937,"v":0.0093},
      {"i":27000,"v":0.0084},{"i":27062,"v":0.0094},{"i":27125,"v":0.0084},{"i":27187,"v":0.0095},{"i":27250,"v":0.0084},{"i":27312,"v":0.0096},{"i":27375,"v":0.0084},{"i":27437,"v":0.0092},
      {"i":27500,"v":0.0083},{"i":27562,"v":0.0093},{"i":27625,"v":0.0083},{"i":27687,"v":0.0094},{"i":27750,"v":0.0083},{"i":27812,"v":0.0095},{"i":27875,"v":0.0083},{"i":27937,"v":0.0092},
      {"i":28000,"v":0.0083},{"i":28062,"v":0.0093},{"i":28125,"v":0.0083},{"i":28187,"v":0.0093},{"i":28250,"v":0.0082},{"i":28312,"v":0.0094},{"i":28375,"v":0.0082},{"i":28437,"v":0.0091},
      {"i":28500,"v":0.0082},{"i":28562,"v":0.0092},{"i":28625,"v":0.0082},{"i":28687,"v":0.0093},{"i":28750,"v":0.0082},{"i":28812,"v":0.0094},{"i":28875,"v":0.0082},{"i":28937,"v":0.009},
      {"i":29000,"v":0.0082},{"i":29062,"v":0.0091},{"i":29125,"v":0.0082},{"i":29187,"v":0.0092},{"i":29250,"v":0.0081},{"i":29312,"v":0.0093},{"i":29375,"v":0.0081},{"i":29437,"v":0.009},
      {"i":29500,"v":0.0081},{"i":29562,"v":0.0098},{"i":29625,"v":0.0081},{"i":29687,"v":0.0092},{"i":29750,"v":0.0081},{"i":29812,"v":0.0092},{"i":29875,"v":0.0081},{"i":29937,"v":0.009},
      {"i":30000,"v":0.008}
    ]
  },
  "encoding": {
    "x": {
      "field": "i",
      "type": "quantitative",
      "title": "Iterations",
      "scale": {"domain": [-1500, 31500], "nice": false, "zero": false},
      "axis": {"values": [0, 5000, 10000, 15000, 20000, 25000, 30000], "format": "d", "labelFlush": false, "titlePadding": 7}
    },
    "y": {
      "field": "v",
      "type": "quantitative",
      "title": "Loss",
      "scale": {"type": "log", "domain": [0.0009, 5970], "nice": false},
      "axis": {
        "values": [0.001,0.002,0.003,0.004,0.005,0.006,0.007,0.008,0.009,0.01,0.02,0.03,0.04,0.05,0.06,0.07,0.08,0.09,0.1,0.2,0.3,0.4,0.5,0.6,0.7,0.8,0.9,1,2,3,4,5,6,7,8,9,10,20,30,40,50,60,70,80,90,100,200,300,400,500,600,700,800,900,1000,2000,3000,4000,5000],
        "labelExpr": "datum.value == 1000 ? '10³' : datum.value == 100 ? '10²' : datum.value == 10 ? '10¹' : datum.value == 1 ? '10⁰' : datum.value == 0.1 ? '10⁻¹' : datum.value == 0.01 ? '10⁻²' : datum.value == 0.001 ? '10⁻³' : ''",
        "tickSize": {"condition": {"test": "indexof([1000,100,10,1,0.1,0.01,0.001], datum.value) >= 0", "value": 3.5}, "value": 2},
        "tickWidth": {"condition": {"test": "indexof([1000,100,10,1,0.1,0.01,0.001], datum.value) >= 0", "value": 0.8}, "value": 0.6},
        "labelOverlap": false,
        "labelFlush": false,
        "titlePadding": 10
      }
    }
  },
  "layer": [
    {
      "data": {"name": "total"},
      "mark": {"type": "line", "strokeWidth": 1.5, "strokeJoin": "round", "clip": true},
      "encoding": {
        "color": {
          "datum": "total\u00a0\u00a0loss",
          "type": "nominal",
          "scale": {
            "domain": ["total\u00a0\u00a0loss", "equation\u00a0\u00a0loss", "BC\u00a0\u00a0\u00a0\u00a0\u00a0\u00a0\u00a0loss"],
            "range": ["#0000ff", "#bfbf00", "#ff0000"]
          },
          "legend": {
            "title": null,
            "orient": "none",
            "legendX": 344,
            "legendY": 7,
            "symbolType": "M-2.8,0H2.8",
            "symbolSize": 100,
            "symbolStrokeWidth": 1.5,
            "symbolOffset": 9,
            "labelFont": "DejaVu Sans",
            "labelFontSize": 13.9,
            "labelColor": "black",
            "labelOffset": 16,
            "padding": 5,
            "rowPadding": 5.5,
            "strokeColor": "#cccccc",
            "fillColor": "rgba(255,255,255,0.8)",
            "cornerRadius": 3
          }
        }
      }
    },
    {
      "data": {"name": "equation"},
      "mark": {"type": "line", "strokeWidth": 1.5, "strokeJoin": "round", "clip": true},
      "encoding": {"color": {"datum": "equation\u00a0\u00a0loss", "type": "nominal"}}
    },
    {
      "data": {"name": "bc"},
      "mark": {"type": "line", "strokeWidth": 1.5, "strokeJoin": "round", "clip": true},
      "encoding": {"color": {"datum": "BC\u00a0\u00a0\u00a0\u00a0\u00a0\u00a0\u00a0loss", "type": "nominal"}}
    }
  ],
  "config": {
    "view": {"stroke": "black", "strokeWidth": 0.8},
    "axis": {
      "labelFont": "DejaVu Sans",
      "labelFontSize": 13.9,
      "labelColor": "black",
      "titleFont": "DejaVu Sans",
      "titleFontSize": 13.9,
      "titleFontWeight": "normal",
      "titleColor": "black",
      "tickColor": "black",
      "tickSize": 3.5,
      "tickWidth": 0.8,
      "domainColor": "black",
      "domainWidth": 0.8,
      "labelPadding": 3.5,
      "grid": false
    }
  }
}
